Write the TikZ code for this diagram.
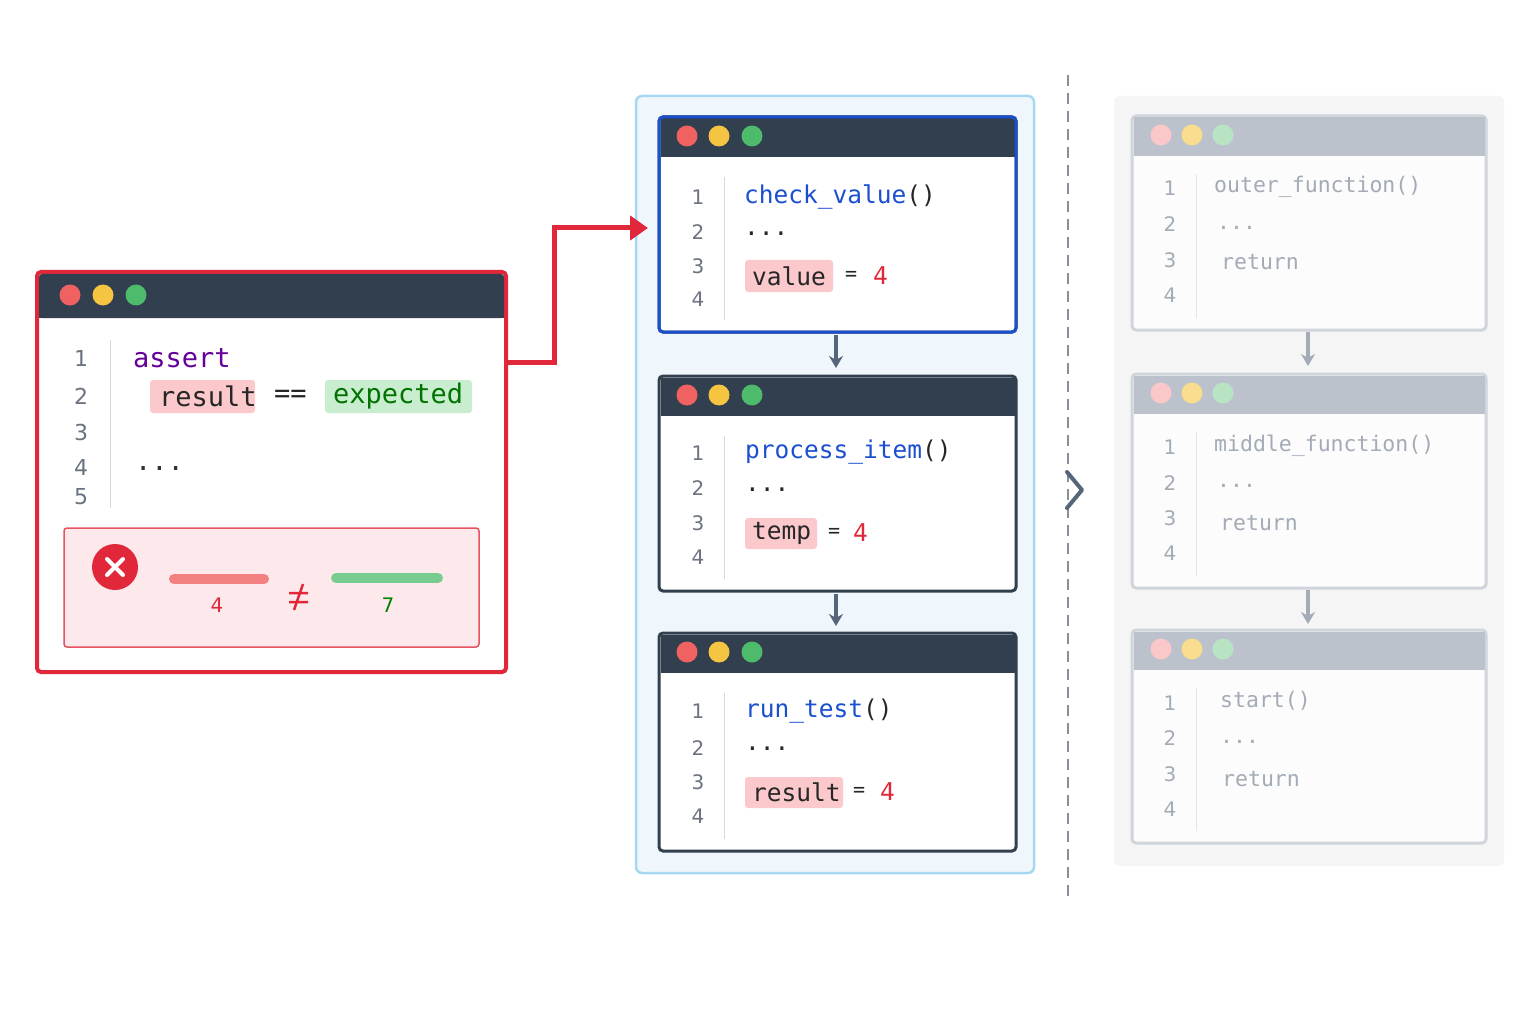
\documentclass[tikz,border=0pt]{standalone}
\usepackage{fontspec}
\setmainfont{DejaVu Sans}
\newfontfamily\mono{DejaVu Sans Mono}
\usetikzlibrary{arrows.meta}
\definecolor{bar}{HTML}{323F4F}
\definecolor{dred}{HTML}{F06262}
\definecolor{dyel}{HTML}{F5C542}
\definecolor{dgrn}{HTML}{4DBB6B}
\definecolor{errred}{HTML}{E0283A}
\definecolor{kwblue}{HTML}{1A4FD0}
\definecolor{hlred}{HTML}{FBC9CC}
\definecolor{hlgrn}{HTML}{C9EECF}
\definecolor{numgray}{HTML}{6B7280}
\definecolor{arrgray}{HTML}{56657A}
\definecolor{fade}{HTML}{A3ABB6}
\definecolor{fadebar}{HTML}{BCC2CB}
\definecolor{bluebg}{HTML}{EFF7FD}
\definecolor{bluebd}{HTML}{A7D8F3}
\tikzset{
 win/.style={draw=bar,line width=3pt,fill=white,rounded corners=4pt},
 dot/.style={circle,inner sep=0pt,minimum size=21pt},
 num/.style={text=numgray,font=\fontsize{20}{22}\selectfont},
 code/.style={anchor=west,inner sep=2pt,font=\mono\fontsize{24.5}{28}\selectfont},
 gcode/.style={anchor=west,inner sep=2pt,text=fade,font=\mono\fontsize{21.5}{24}\selectfont},
 hl/.style={fill=hlred,rounded corners=3pt},
 darr/.style={-{Stealth[length=12pt,width=14pt]},line width=3.5pt,draw=arrgray},
}
\begin{document}
\begin{tikzpicture}[x=1pt,y=-1pt]
\useasboundingbox[fill=white] (0,0) rectangle (1536,1024);
% ---------- left window ----------
\draw[win,draw=errred,line width=4pt] (37,272) rectangle (506,672);
\fill[bar,rounded corners=3pt] (39,274) rectangle (504,318);
\fill[bar] (39,300) rectangle (504,318);
\node[dot,fill=dred] (l1) at (70,295) {};
\node[dot,fill=dyel] (l2) at (103,295) {};
\node[dot,fill=dgrn] (l3) at (136,295) {};
\foreach \n/\y in {1/358,2/396,3/432,4/467,5/497}{\node[num,font=\fontsize{22}{24}\selectfont] (ln\n) at (81,\y) {\n};}
\draw[line width=1pt,draw=gray!30] (110,340) -- (110,508);
\node[code,text=violet!80!blue,font=\mono\fontsize{27}{30}\selectfont] (la) at (131,358) {assert};
\fill[hl] (150,380) rectangle (255,413);
\node[code,text=black!85,font=\mono\fontsize{27}{30}\selectfont] (lr) at (157,396) {result};
\node[code,text=black!85,font=\mono\fontsize{27}{30}\selectfont] (leq) at (272,396) {==};
\fill[hlgrn,rounded corners=3pt] (325,380) rectangle (472,413);
\node[code,text=green!45!black,font=\mono\fontsize{27}{30}\selectfont] (le) at (331,396) {expected};
\node[code,text=black!80,font=\mono\fontsize{27}{30}\selectfont] (ld) at (133,468) {...};
\draw[fill=hlred!40,draw=errred!80,line width=1.5pt,rounded corners=3pt] (64,528) rectangle (479,647);
\node[circle,fill=errred,minimum size=46pt,inner sep=0pt] (x) at (115,567) {};
\draw[white,line width=4pt,line cap=round] ([shift={(-8,-8)}]x.center) -- ([shift={(8,8)}]x.center);
\draw[white,line width=4pt,line cap=round] ([shift={(-8,8)}]x.center) -- ([shift={(8,-8)}]x.center);
\draw[line width=10pt,line cap=round,draw=dred!80] (174,579) -- (264,579);
\draw[line width=10pt,line cap=round,draw=dgrn!75] (336,578) -- (438,578);
\node[text=errred,font=\fontsize{20}{22}\selectfont] (v4) at (217,605) {4};
\node[inner sep=0pt,minimum size=24pt] (ne) at (298,597) {};
\draw[errred,line width=2.5pt] (289,593) -- (308,593) (289,602) -- (308,602) (303,584) -- (294,610);
\node[text=green!50!black,font=\fontsize{20}{22}\selectfont] (v7) at (388,605) {7};
% ---------- middle container ----------
\draw[fill=bluebg,draw=bluebd,line width=2.5pt,rounded corners=6pt] (636,96) rectangle (1034,873);
\coordinate (s) at (507,362);
\coordinate (t) at (648,228);
\draw[errred,line width=5pt,-{Triangle[length=18pt,width=24pt]}] (s) -- (554,362) -- (554,228) -- (t);
% windows
\foreach \top/\bot/\name in {117/332/wa,376/591/wb,633/851/wc}{
 \draw[win] (659,\top) rectangle (1016,\bot);
 \fill[bar] (660.5,\top+1.5) rectangle (1014.5,\top+40);
 \node[dot,fill=dred] (\name1) at (687,\top+19) {};
 \node[dot,fill=dyel] (\name2) at (719,\top+19) {};
 \node[dot,fill=dgrn] (\name3) at (752,\top+19) {};
 \draw[line width=1pt,draw=gray!30] (724,\top+60) -- (724,\bot-12);
}
\draw[draw=kwblue,line width=3pt,rounded corners=4pt] (659,117) rectangle (1016,332);
\foreach \n/\y in {1/197,2/232,3/266,4/299}{\node[num] (a\n) at (698,\y) {\n};}
\foreach \n/\y in {1/453,2/488,3/523,4/557}{\node[num] (b\n) at (698,\y) {\n};}
\foreach \n/\y in {1/711,2/748,3/782,4/816}{\node[num] (c\n) at (698,\y) {\n};}
\node[code,text=kwblue] (ca) at (742,197) {check\_value\textcolor{black!85}{()}};
\node[code,text=black!85] (cb) at (742,234) {...};
\fill[hl] (745,260) rectangle (833,292);
\node[code,text=black!85] (cv) at (750,276) {value};
\node[code,text=black!85,font=\mono\fontsize{20}{22}\selectfont] (ce) at (843,276) {=};
\node[code,text=errred] (c4) at (871,276) {4};
\node[code,text=kwblue] (pa) at (743,452) {process\_item\textcolor{black!85}{()}};
\node[code,text=black!85] (pb) at (743,490) {...};
\fill[hl] (745,518) rectangle (817,549);
\node[code,text=black!85] (pt) at (750,533) {temp};
\node[code,text=black!85,font=\mono\fontsize{20}{22}\selectfont] (pe) at (826,533) {=};
\node[code,text=errred] (p4) at (851,533) {4};
\node[code,text=kwblue] (ra) at (743,711) {run\_test\textcolor{black!85}{()}};
\node[code,text=black!85] (rb) at (743,749) {...};
\fill[hl] (745,777) rectangle (843,808);
\node[code,text=black!85] (rr) at (750,792) {result};
\node[code,text=black!85,font=\mono\fontsize{20}{22}\selectfont] (re) at (851,792) {=};
\node[code,text=errred] (r4) at (878,792) {4};
\coordinate (m1) at (836,335); \coordinate (m2) at (836,368);
\coordinate (m3) at (836,594); \coordinate (m4) at (836,626);
\draw[darr] (m1) -- (m2);
\draw[darr] (m3) -- (m4);
% ---------- divider ----------
\coordinate (d1) at (1068,75); \coordinate (d2) at (1068,897);
\draw[draw=numgray!80,line width=2.5pt,dash pattern=on 11pt off 7pt] (d1) -- (d2);
\draw[draw=arrgray,line width=4pt,line cap=round,line join=round] (1067,472) -- (1082,490) -- (1067,508);
% ---------- right container ----------
\fill[gray!8,rounded corners=6pt] (1114,96) rectangle (1504,866);
\foreach \top/\bot/\name in {116/330/ga,374/588/gb,630/843/gc}{
 \draw[draw=fadebar!70,line width=3pt,fill=white!60!gray!5,rounded corners=4pt] (1132,\top) rectangle (1486,\bot);
 \fill[fadebar] (1133.5,\top+1.5) rectangle (1484.5,\top+40);
 \node[dot,fill=dred!35] (\name1) at (1161,\top+19) {};
 \node[dot,fill=dyel!60] (\name2) at (1192,\top+19) {};
 \node[dot,fill=dgrn!40] (\name3) at (1223,\top+19) {};
 \draw[line width=1pt,draw=gray!20] (1196,\top+58) -- (1196,\bot-12);
}
\foreach \n/\y in {1/188,2/224,3/260,4/295}{\node[num,text=fade] (ga\n) at (1170,\y) {\n};}
\foreach \n/\y in {1/447,2/483,3/518,4/553}{\node[num,text=fade] (gb\n) at (1170,\y) {\n};}
\foreach \n/\y in {1/703,2/738,3/774,4/809}{\node[num,text=fade] (gc\n) at (1170,\y) {\n};}
\node[gcode] (o1) at (1212,187) {outer\_function()};
\node[gcode] (o2) at (1215,228) {...};
\node[gcode] (o3) at (1219,262) {return};
\node[gcode] (q1) at (1212,446) {middle\_function()};
\node[gcode] (q2) at (1215,486) {...};
\node[gcode] (q3) at (1218,523) {return};
\node[gcode] (s1) at (1218,701) {start()};
\node[gcode] (s2) at (1218,742) {...};
\node[gcode] (s3) at (1220,779) {return};
\coordinate (g1) at (1308,332); \coordinate (g2) at (1308,366);
\coordinate (g3) at (1308,590); \coordinate (g4) at (1308,624);
\draw[darr,draw=fade] (g1) -- (g2);
\draw[darr,draw=fade] (g3) -- (g4);
\end{tikzpicture}
\end{document}
